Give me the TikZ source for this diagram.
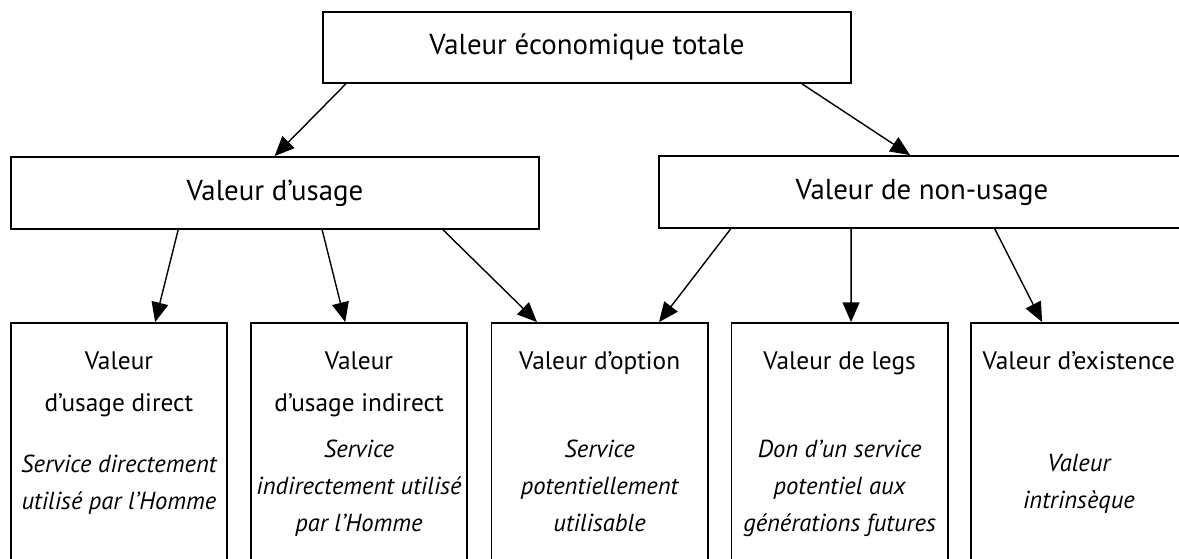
\documentclass[tikz,border=0pt]{standalone}
\usepackage{fontspec}
\setmainfont{PT Sans}
\usetikzlibrary{arrows.meta,calc}
\newcommand\pxu{0.025cm}
\begin{document}
\begin{tikzpicture}[x=0.025cm, y=-0.025cm,
        box/.style={rectangle, draw, line width=1.3pt, inner sep=0pt, font=\fontsize{20.5}{24}\selectfont},
        title/.style={align=center, inner sep=0pt, anchor=base, font=\fontsize{18}{29.8}\selectfont},
        descr/.style={align=center, inner sep=0pt, anchor=base, font=\fontsize{17.5}{26.3}\selectfont\itshape},
        arrow/.style={-{Triangle[length=14pt, width=12pt]}, line width=1pt}
    ]
        \useasboundingbox (0,0) rectangle (1179,559);

        \node[box, minimum width=528*\pxu, minimum height=71*\pxu] (total) at (587,47.5) {Valeur économique totale};
        \node[box, minimum width=528.3*\pxu, minimum height=72*\pxu] (usage) at (274.9,193) {Valeur d’usage};
        \node[box, minimum width=526*\pxu, minimum height=72*\pxu] (nonusage) at (922,192) {Valeur de non-usage};

        \node[box, minimum width=216.3*\pxu, minimum height=260*\pxu] (direct) at (118.9,453) {};
        \node[box, minimum width=216.3*\pxu, minimum height=260*\pxu] (indirect) at (359,453) {};
        \node[box, minimum width=216.3*\pxu, minimum height=260*\pxu] (option) at (599.6,453) {};
        \node[box, minimum width=216.3*\pxu, minimum height=260*\pxu] (legs) at (839.6,453) {};
        \node[box, minimum width=216.3*\pxu, minimum height=260*\pxu] (exist) at (1078.9,453) {};

        % base = baseline of the last line
        \node[title] (directT) at (118.9,411) {Valeur\\d’usage direct};
        \node[title] (indirectT) at (359,411) {Valeur\\d’usage indirect};
        \node[title] (optionT) at (599.6,369) {Valeur d’option};
        \node[title] (legsT) at (839.6,369) {Valeur de legs};
        \node[title] (existT) at (1078.9,369) {Valeur d’existence};

        \node[descr] (directD) at (118.9,509) {Service directement\\utilisé par l’Homme};
        \node[descr] (indirectD) at (359,531) {Service\\indirectement utilisé\\par l’Homme};
        \node[descr] (optionD) at (599.6,531) {Service\\potentiellement\\utilisable};
        \node[descr] (legsD) at (839.6,531) {Don d’un service\\potentiel aux\\générations futures};
        \node[descr] (existD) at (1078.9,508) {Valeur\\intrinsèque};

        \draw[arrow] ($(total.south west)+(23.7,0)$) -- ($(usage.north west)+(264.8,0)$);
        \draw[arrow] ($(total.south west)+(480,0)$) -- ($(nonusage.north west)+(252,0)$);

        \draw[arrow] ($(usage.south west)+(168.3,0)$) -- ($(direct.north west)+(145.3,0)$);
        \draw[arrow] ($(usage.south west)+(312.3,0)$) -- ($(indirect.north west)+(95.3,0)$);
        \draw[arrow] ($(usage.south west)+(433.3,0)$) -- ($(option.north west)+(46.5,0)$);

        \draw[arrow] ($(nonusage.south west)+(72.6,0)$) -- ($(option.north west)+(168.5,0)$);
        \draw[arrow] ($(nonusage.south west)+(193,0)$) -- ($(legs.north west)+(120.5,0)$);
        \draw[arrow] ($(nonusage.south west)+(336.7,0)$) -- ($(exist.north west)+(72.3,0)$);
    \end{tikzpicture}
\end{document}
